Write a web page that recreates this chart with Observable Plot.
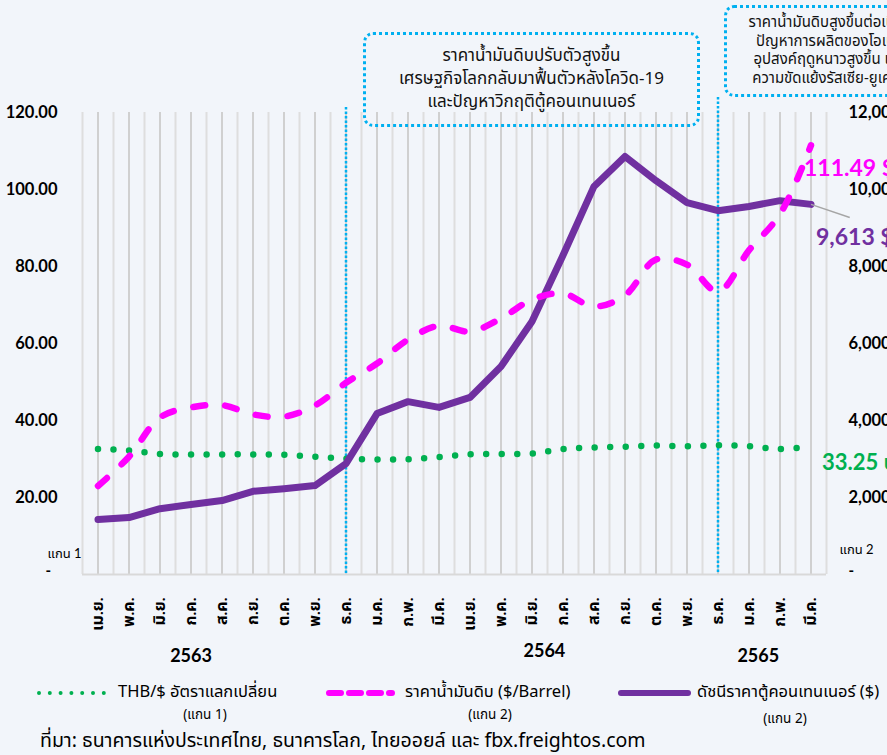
<!DOCTYPE html>
<html>
<head>
<meta charset="utf-8">
<script src="https://cdn.jsdelivr.net/npm/d3@7"></script>
<script src="https://cdn.jsdelivr.net/npm/@observablehq/plot@0.6"></script>
<style>
  html, body { margin: 0; padding: 0; background: #f2f5fa; }
  #wrap { position: relative; width: 887px; height: 755px; overflow: hidden; background: #f2f5fa;
          font-family: "Noto Sans Thai", "Noto Sans Thai UI", "Lato", "DejaVu Sans", sans-serif; color: #000; }
  #chart { position: absolute; left: 0; top: 0; }
  .box { position: absolute; border: 3px dotted #00b0f0; border-radius: 10px; box-sizing: border-box; text-align: center; color: #111; }
  .abs { position: absolute; white-space: nowrap; }
</style>
</head>
<body>
<div id="wrap">
  <div id="chart"></div>
  <div class="box" id="box1" style="left:363px; top:32px; width:337px; height:95px; padding-top:10px; font-size:17px; line-height:23px;"></div>
  <div class="box" id="box2" style="left:724px; top:5px; width:212px; height:92px; padding-top:6px; font-size:15px; line-height:18.7px;"></div>
  <div id="legend"></div>
</div>
<script>
// ---- data ----
const months = ["เม.ย.","พ.ค.","มิ.ย.","ก.ค.","ส.ค.","ก.ย.","ต.ค.","พ.ย.","ธ.ค.","ม.ค.","ก.พ.","มี.ค.",
                "เม.ย.","พ.ค.","มิ.ย.","ก.ค.","ส.ค.","ก.ย.","ต.ค.","พ.ย.","ธ.ค.","ม.ค.","ก.พ.","มี.ค."];
const years = ["2563", "2564", "2565"];
const thb = [32.6, 32.2, 31.3, 31.2, 31.2, 31.2, 31.1, 30.6, 30.1, 29.9, 29.9, 30.5,
             31.2, 31.3, 31.4, 32.6, 33.0, 33.2, 33.5, 33.3, 33.6, 33.3, 32.6, 33.25];
const oil = [23.0, 30.6, 40.8, 43.4, 44.0, 41.6, 41.0, 43.9, 49.8, 54.8, 61.0, 64.6,
             63.1, 66.5, 71.4, 73.0, 69.6, 72.5, 81.8, 80.5, 73.5, 84.2, 93.6, 111.49];
const container = [1430, 1480, 1710, 1820, 1920, 2160, 2230, 2310, 2880, 4180, 4490, 4340,
                   4600, 5400, 6570, 8290, 10080, 10860, 10230, 9660, 9450, 9560, 9710, 9613];
const leftTicks = [20, 40, 60, 80, 100, 120];
const rightTicks = [2000, 4000, 6000, 8000, 10000, 12000];
const axisNames = ["แกน 1", "แกน 2"];
const note1 = ["ราคาน้ำมันดิบปรับตัวสูงขึ้น", "เศรษฐกิจโลกกลับมาฟื้นตัวหลังโควิด-19", "และปัญหาวิกฤติตู้คอนเทนเนอร์"];
const note2 = ["ราคาน้ำมันดิบสูงขึ้นต่อเนื่อง", "ปัญหาการผลิตของโอเปก", "อุปสงค์ฤดูหนาวสูงขึ้น และ", "ความขัดแย้งรัสเซีย-ยูเครน"];
const legendItems = ["THB/$ อัตราแลกเปลี่ยน", "ราคาน้ำมันดิบ ($/Barrel)", "ดัชนีราคาตู้คอนเทนเนอร์ ($)"];
const legendAxes = ["(แกน 1)", "(แกน 2)", "(แกน 2)"];
const source = "ที่มา:  ธนาคารแห่งประเทศไทย, ธนาคารโลก, ไทยออยล์ และ fbx.freightos.com";

// ---- layout helpers (positions/styles only) ----
const yearAt = [3, 14.4, 21.3];
const yearDy = [87, 82, 87];
const markerIdx = [8, 20];       // dotted separators (ธ.ค. 2563, ธ.ค. 2564)
const markerTop = [121.3, 123.9];

const colors = { thb: "#00b050", oil: "#ff00ff", cont: "#7030a0", blue: "#00b0f0" };
const numFont = "Lato, 'Noto Sans Thai', sans-serif";

const data = months.map((m, i) => ({ i, m, thb: thb[i], oil: oil[i], cont: container[i] }));
const last = data[data.length - 1];

const chart = Plot.plot({
  width: 887,
  height: 680,
  marginLeft: 82,
  marginRight: 61,
  marginTop: 112,
  marginBottom: 106,
  style: { background: "transparent", color: "#000", fontFamily: numFont, overflow: "visible" },
  x: { type: "linear", domain: [-0.5, 23.5], label: null },
  y: { domain: [0, 120], label: null },
  marks: [
    // vertical gridlines
    Plot.ruleX(d3.range(-0.5, 24, 1), { stroke: "#dedede", strokeWidth: 2 }),
    Plot.ruleX(d3.range(0, 24, 1), { stroke: "#d0d0d0", strokeWidth: 2 }),
    Plot.ruleY([0], { stroke: "#d9d9d9", strokeWidth: 2 }),
    // dotted separators
    Plot.ruleX(markerIdx, { y1: (d, k) => markerTop[k], y2: 0, stroke: colors.blue, strokeWidth: 2.5, strokeDasharray: "2.5,2" }),
    // series
    Plot.line(data, { x: "i", y: "thb", stroke: colors.thb, strokeWidth: 6.5, strokeDasharray: "0,15.55", strokeLinecap: "round", curve: "catmull-rom" }),
    Plot.line(data, { x: "i", y: d => d.cont / 100, stroke: colors.cont, strokeWidth: 7, strokeLinejoin: "round", strokeLinecap: "round" }),
    Plot.line(data, { x: "i", y: "oil", stroke: colors.oil, strokeWidth: 6.5, strokeDasharray: "12,20", strokeLinecap: "round", curve: "catmull-rom" }),
    // leader line for container label
    Plot.link([last], { x1: "i", y1: d => d.cont / 100, x2: d => d.i + 1.25, y2: d => d.cont / 100 - 3.4, stroke: "#a6a6a6", strokeWidth: 1.5 }),
    // end labels
    Plot.text([last], { x: "i", y: "oil", text: d => `${d.oil} $`, dx: -7, dy: 23, textAnchor: "start", fill: colors.oil, fontSize: 23, fontWeight: "bold" }),
    Plot.text([last], { x: "i", y: d => d.cont / 100, text: d => `${d3.format(",")(d.cont)} $`, dx: 5, dy: 33, textAnchor: "start", fill: colors.cont, fontSize: 23, fontWeight: "bold" }),
    Plot.text([last], { x: "i", y: "thb", text: d => `${d.thb} บาท`, dx: 11, dy: 16, textAnchor: "start", fill: colors.thb, fontSize: 22, fontWeight: "bold" }),
    // axes
    Plot.axisY({ anchor: "left", ticks: leftTicks, tickFormat: d3.format(".2f"), tickSize: 0, tickPadding: 25, fontSize: 16.5, fontWeight: "bold", label: null }),
    Plot.axisY(rightTicks.map(v => v / 100), { anchor: "right", tickFormat: d => d3.format(",")(d * 100), tickSize: 0, tickPadding: 22, fontSize: 16.5, fontWeight: "bold", textAnchor: "start", label: null }),
    Plot.axisX(d3.range(months.length), { anchor: "bottom", tickFormat: i => months[i], tickRotate: -90, tickSize: 0, tickPadding: 23, fontSize: 16, fontWeight: "bold", label: null }),
    Plot.text([years[0]], { x: [yearAt[0]], frameAnchor: "bottom", dy: yearDy[0], fontSize: 18, fontWeight: "bold" }),
    Plot.text([years[1]], { x: [yearAt[1]], frameAnchor: "bottom", dy: yearDy[1], fontSize: 18, fontWeight: "bold" }),
    Plot.text([years[2]], { x: [yearAt[2]], frameAnchor: "bottom", dy: yearDy[2], fontSize: 18, fontWeight: "bold" }),
    // axis name labels
    Plot.text([axisNames[0]], { frameAnchor: "bottom-left", dx: -35, dy: -17, fontSize: 13 }),
    Plot.text(["-"], { frameAnchor: "bottom-left", dx: -37, dy: 1, fontSize: 15, fontWeight: "bold" }),
    Plot.text([axisNames[1]], { frameAnchor: "bottom-right", dx: 13, dy: -21, textAnchor: "start", fontSize: 13 }),
    Plot.text(["-"], { frameAnchor: "bottom-right", dx: 22, dy: 1, textAnchor: "start", fontSize: 15, fontWeight: "bold" })
  ]
});
document.getElementById("chart").appendChild(chart);

// annotation boxes
document.getElementById("box1").innerHTML = note1.map(t => `<div>${t}</div>`).join("");
document.getElementById("box2").innerHTML = note2.map(t => `<div>${t}</div>`).join("");

// legend + source
const lg = document.getElementById("legend");
const lgSvg = `<svg class="abs" style="left:0;top:680px" width="887" height="30">
  <line x1="39" y1="13" x2="104" y2="13" stroke="${colors.thb}" stroke-width="4" stroke-linecap="round" stroke-dasharray="0,10.8"/>
  <line x1="329" y1="13" x2="392" y2="13" stroke="${colors.oil}" stroke-width="6" stroke-linecap="round" stroke-dasharray="12,8"/>
  <line x1="621" y1="13" x2="688" y2="13" stroke="${colors.cont}" stroke-width="6" stroke-linecap="round"/>
</svg>`;
const lgText = [
  { x: 118, t: legendItems[0] }, { x: 405, t: legendItems[1] }, { x: 697, t: legendItems[2] }
].map(o => `<span class="abs" style="left:${o.x}px;top:681px;font-size:16.5px;line-height:22px">${o.t}</span>`).join("");
const axText = [
  { x: 205, y: 705 }, { x: 490, y: 705 }, { x: 785, y: 709 }
].map((o, k) => `<span class="abs" style="left:${o.x}px;top:${o.y}px;transform:translateX(-50%);font-size:13.5px;line-height:20px">${legendAxes[k]}</span>`).join("");
const src = `<span class="abs" style="left:40px;top:727px;font-size:19.5px;line-height:28px">${source}</span>`;
lg.innerHTML = lgSvg + lgText + axText + src;
</script>
</body>
</html>
